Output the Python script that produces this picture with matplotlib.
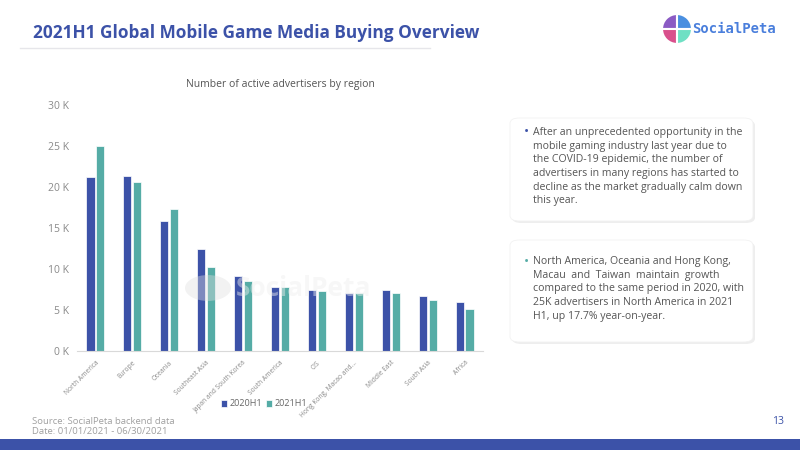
import matplotlib.pyplot as plt
import numpy as np
from matplotlib.patches import FancyBboxPatch, Wedge, Circle, Rectangle

plt.rcParams['font.family'] = ['Open Sans', 'DejaVu Sans']

regions = ['North America', 'Europe', 'Oceania', 'Southeast Asia', 'Japan and South Korea',
           'South America', 'CIS', 'Hong Kong, Macao and...', 'Middle East', 'South Asia', 'Africa']
h1_2020 = [21.2, 21.3, 15.9, 12.4, 9.1, 7.8, 7.45, 7.05, 7.45, 6.75, 6.0]
h1_2021 = [25.0, 20.6, 17.3, 10.25, 8.55, 7.75, 7.3, 7.1, 7.05, 6.25, 5.1]
yticks = [0, 5, 10, 15, 20, 25, 30]

c_blue = '#3c52a8'
c_teal = '#55aca6'
c_grey = '#8a8a8a'

fig = plt.figure(figsize=(8, 4.5), dpi=100)
W, H = 800, 450

def fx(x):
    return x / W

def fy(y):
    return 1 - y / H

# header
fig.text(fx(33), fy(33), '2021H1 Global Mobile Game Media Buying Overview', fontsize=12.4,
         fontweight='bold', color=c_blue, va='center', ha='left')
fig.add_artist(plt.Line2D([fx(20), fx(430)], [fy(48), fy(48)], color='#e6e6ea', lw=1))

# logo
logo_ax = fig.add_axes([fx(659), fy(47), fx(36), 36 / H])
logo_ax.set_xlim(-18, 18)
logo_ax.set_ylim(-18, 18)
logo_ax.set_aspect('equal')
logo_ax.axis('off')
for (t1, t2), col in zip([(90, 180), (0, 90), (180, 270), (270, 360)],
                         ['#8b5bc4', '#4a8fe0', '#d9508c', '#6fe0c4']):
    logo_ax.add_patch(Wedge((0, 0), 15, t1, t2, facecolor=col, edgecolor='white', lw=1.5))
fig.text(fx(692), fy(29), 'SocialPeta', fontsize=10, fontweight='bold', color='#4a7fdc',
         va='center', ha='left', family='DejaVu Sans Mono')

# chart
ax = fig.add_axes([fx(77), fy(351), fx(483 - 77), (351 - 105) / H])
x = np.arange(len(regions))
bw = 0.22
ax.bar(x - 0.135, h1_2020, bw, color=c_blue, edgecolor='white', linewidth=0.5, label='2020H1', zorder=2)
ax.bar(x + 0.135, h1_2021, bw, color=c_teal, edgecolor='white', linewidth=0.5, label='2021H1', zorder=2)
ax.set_xlim(-0.5, len(regions) - 0.5)
ax.set_ylim(0, 30)
ax.set_yticks(yticks)
ax.set_yticklabels([f'{v} K' for v in yticks], fontsize=7.5, color=c_grey)
ax.set_xticks(x)
ax.set_xticklabels(regions, rotation=45, ha='right', rotation_mode='anchor', fontsize=4.8, color=c_grey)
ax.tick_params(length=0)
ax.tick_params(axis='y', pad=6)
ax.tick_params(axis='x', pad=6)
for s in ['top', 'right', 'left']:
    ax.spines[s].set_visible(False)
ax.spines['bottom'].set_color('#d9d9d9')
ax.set_title('Number of active advertisers by region', fontsize=7.5, color='#555555', pad=13)
ax.legend(loc='center', bbox_to_anchor=(fx(264), fy(404)), bbox_transform=fig.transFigure,
          ncol=2, frameon=False, fontsize=6.5, handlelength=0.7, handleheight=0.7,
          handletextpad=0.3, columnspacing=0.4, labelcolor='#666666')

# watermark
fig.add_artist(Circle((fx(208), fy(288)), 23 / W, facecolor='#e0e0e0', alpha=0.4,
                      edgecolor='none', transform=fig.transFigure, zorder=5))
fig.text(fx(236), fy(288), 'SocialPeta', fontsize=19, fontweight='bold', color='#eeeeee',
         alpha=0.45, va='center', ha='left', zorder=6)

# text boxes
def card(y0, y1):
    fig.add_artist(FancyBboxPatch((fx(512), fy(y1 + 2)), fx(243), (y1 - y0) / H,
                                  boxstyle='round,pad=0,rounding_size=0.012',
                                  facecolor='#eeeeee', edgecolor='none', transform=fig.transFigure))
    fig.add_artist(FancyBboxPatch((fx(510), fy(y1)), fx(243), (y1 - y0) / H,
                                  boxstyle='round,pad=0,rounding_size=0.012',
                                  facecolor='white', edgecolor='#f2f2f2', lw=0.6,
                                  transform=fig.transFigure))

card(118, 221)
card(240, 342)

note1 = ['After an unprecedented opportunity in the',
         'mobile gaming industry last year due to',
         'the COVID-19 epidemic, the number of',
         'advertisers in many regions has started to',
         'decline as the market gradually calm down',
         'this year.']
note2 = ['North America, Oceania and Hong Kong,',
         'Macau  and  Taiwan  maintain  growth',
         'compared to the same period in 2020, with',
         '25K advertisers in North America in 2021',
         'H1, up 17.7% year-on-year.']

fig.text(fx(526), fy(133), '\u2022', color=c_blue, fontsize=10, va='center', ha='center')
fig.text(fx(533), fy(127), '\n'.join(note1), fontsize=7.6, color='#555555', va='top', ha='left',
         linespacing=1.33)
fig.text(fx(526), fy(262), '\u2022', color=c_teal, fontsize=10, va='center', ha='center')
fig.text(fx(533), fy(256), '\n'.join(note2), fontsize=7.6, color='#555555', va='top', ha='left',
         linespacing=1.33)

# footer
fig.text(fx(32), fy(422), 'Source: SocialPeta backend data', fontsize=6.8, color='#a0a0a0', va='center')
fig.text(fx(32), fy(432), 'Date: 01/01/2021 - 06/30/2021', fontsize=6.8, color='#a0a0a0', va='center')
fig.text(fx(784), fy(422), '13', fontsize=7.5, color=c_blue, va='center', ha='right')
fig.add_artist(Rectangle((0, 0), 1, 11 / H, facecolor=c_blue, edgecolor='none',
                         transform=fig.transFigure))

fig.savefig('out.png', dpi=100)
